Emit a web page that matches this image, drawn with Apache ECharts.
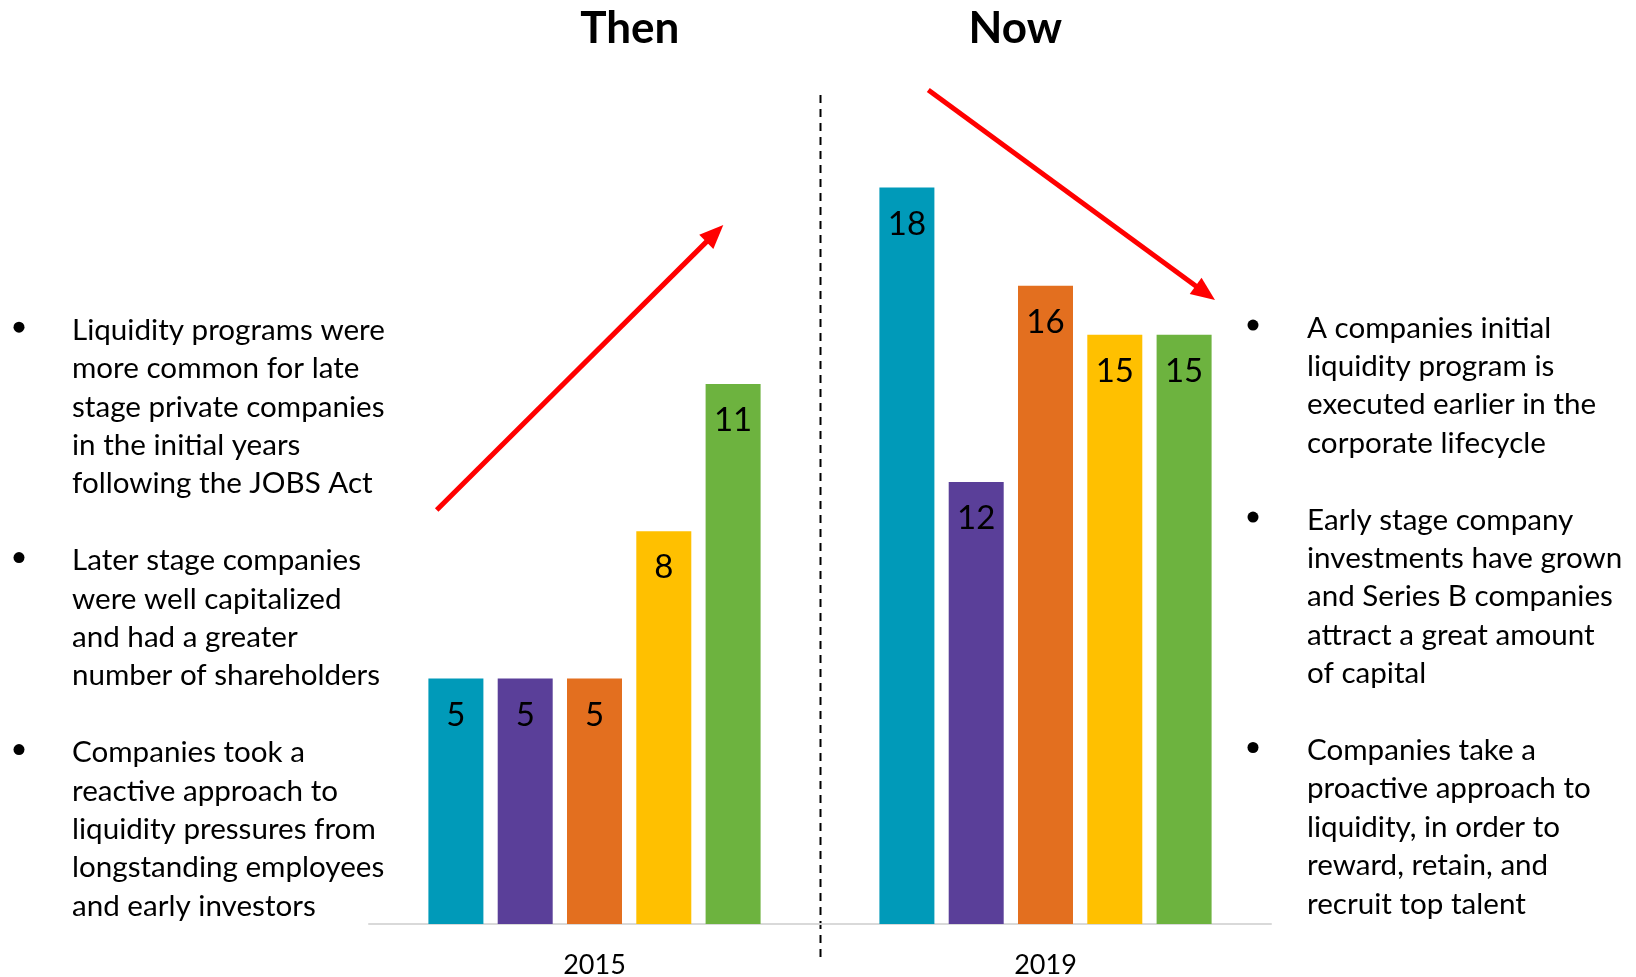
<!DOCTYPE html>
<html><head><meta charset="utf-8">
<script src="https://cdn.jsdelivr.net/npm/echarts@6/dist/echarts.min.js"></script>
<style>html,body{margin:0;padding:0;background:#fff}#c{width:1636px;height:977px}</style>
</head><body><div id="c"></div>
<script>
// ---------- data ----------
const categoriesThen = ['2015'];
const categoriesNow = ['2019'];
const valuesThen = [5, 5, 5, 8, 11];
const valuesNow = [18, 12, 16, 15, 15];
const seriesNames = ['Series 1', 'Series 2', 'Series 3', 'Series 4', 'Series 5'];
const panelTitles = ['Then', 'Now'];
const notesThen = [
  ['Liquidity programs were', 'more common for late', 'stage private companies', 'in the initial years', 'following the JOBS Act'],
  ['Later stage companies', 'were well capitalized', 'and had a greater', 'number of shareholders'],
  ['Companies took a', 'reactive approach to', 'liquidity pressures from', 'longstanding employees', 'and early investors']
];
const notesNow = [
  ['A companies initial', 'liquidity program is', 'executed earlier in the', 'corporate lifecycle'],
  ['Early stage company', 'investments have grown', 'and Series B companies', 'attract a great amount', 'of capital'],
  ['Companies take a', 'proactive approach to', 'liquidity, in order to', 'reward, retain, and', 'recruit top talent']
];

// ---------- style / layout ----------
const FONT = 'Lato';
const palette = ['#009AB9', '#5A3F99', '#E36F1F', '#FFC000', '#6DB33F'];
const LINE_H = 38.4;

const chart = echarts.init(document.getElementById('c'), null, {renderer: 'canvas'});

const series = [];
[valuesThen, valuesNow].forEach((vals, gi) => {
  vals.forEach((v, i) => {
    series.push({
      type: 'bar', name: seriesNames[i], xAxisIndex: gi, yAxisIndex: gi,
      data: [v], barWidth: 55, barGap: '26%',
      itemStyle: {color: palette[i]},
      label: {show: true, position: 'insideTop', distance: 20, fontFamily: FONT, fontSize: 33, color: '#000'},
      silent: true
    });
  });
});

const xAxisCommon = {
  type: 'category',
  axisLine: {lineStyle: {color: '#d9d9d9', width: 2}},
  axisTick: {show: false},
  axisLabel: {fontFamily: FONT, fontSize: 27, color: '#000', margin: 28}
};

function notesGraphics(notes, textX, bulletX, firstCenter) {
  const out = [];
  let lines = [];
  const bulletIdx = [];
  notes.forEach((p, k) => {
    if (k > 0) lines.push('');
    bulletIdx.push(lines.length);
    lines = lines.concat(p);
  });
  out.push({
    type: 'text', left: textX, top: firstCenter - LINE_H / 2, silent: true,
    style: {text: lines.join('\n'), font: '29.6px ' + FONT, fill: '#000', lineHeight: LINE_H}
  });
  bulletIdx.forEach(idx => {
    out.push({type: 'circle', silent: true, shape: {cx: bulletX, cy: firstCenter + idx * LINE_H - 3, r: 5.5}, style: {fill: '#000'}});
  });
  return out;
}

function arrow(x1, y1, x2, y2) {
  const dx = x2 - x1, dy = y2 - y1, L = Math.hypot(dx, dy);
  const ux = dx / L, uy = dy / L, nx = -uy, ny = ux;
  const hl = 24, hw = 10;
  const bx = x2 - ux * hl, by = y2 - uy * hl;
  return [
    {type: 'line', silent: true, shape: {x1: x1, y1: y1, x2: x2 - ux * (hl - 4), y2: y2 - uy * (hl - 4)},
      style: {stroke: '#FF0000', lineWidth: 5}},
    {type: 'polygon', silent: true, shape: {points: [[x2, y2], [bx + nx * hw, by + ny * hw], [bx - nx * hw, by - ny * hw]]},
      style: {fill: '#FF0000'}}
  ];
}

const graphics = []
  .concat(notesGraphics(notesThen, 72, 19, 330.2))
  .concat(notesGraphics(notesNow, 1307, 1253, 328.1))
  .concat(arrow(436.7, 510, 723.3, 225))
  .concat(arrow(928.3, 90, 1215, 300))
  .concat([
    {type: 'line', silent: true, shape: {x1: 820.5, y1: 95, x2: 820.5, y2: 957},
      style: {stroke: '#000', lineWidth: 2, lineDash: [8, 6]}},
    {type: 'text', silent: true, x: 629.7, y: 29, style: {text: panelTitles[0], font: 'bold 44px ' + FONT, fill: '#000', align: 'center', verticalAlign: 'middle'}},
    {type: 'text', silent: true, x: 1015.3, y: 29, style: {text: panelTitles[1], font: 'bold 44px ' + FONT, fill: '#000', align: 'center', verticalAlign: 'middle'}}
  ]);

chart.setOption({
  animation: false,
  backgroundColor: '#ffffff',
  grid: [
    {left: 369, width: 451, top: 40.2, bottom: 53, outerBoundsMode: 'none', containLabel: false},
    {left: 820, width: 451, top: 40.2, bottom: 53, outerBoundsMode: 'none', containLabel: false}
  ],
  xAxis: [
    Object.assign({gridIndex: 0, data: categoriesThen}, xAxisCommon),
    Object.assign({gridIndex: 1, data: categoriesNow}, xAxisCommon)
  ],
  yAxis: [
    {type: 'value', gridIndex: 0, min: 0, max: 18, show: false, splitLine: {show: false}},
    {type: 'value', gridIndex: 1, min: 3, max: 21, startValue: 3, show: false, splitLine: {show: false}}
  ],
  series: series,
  graphic: graphics
});
</script></body></html>
